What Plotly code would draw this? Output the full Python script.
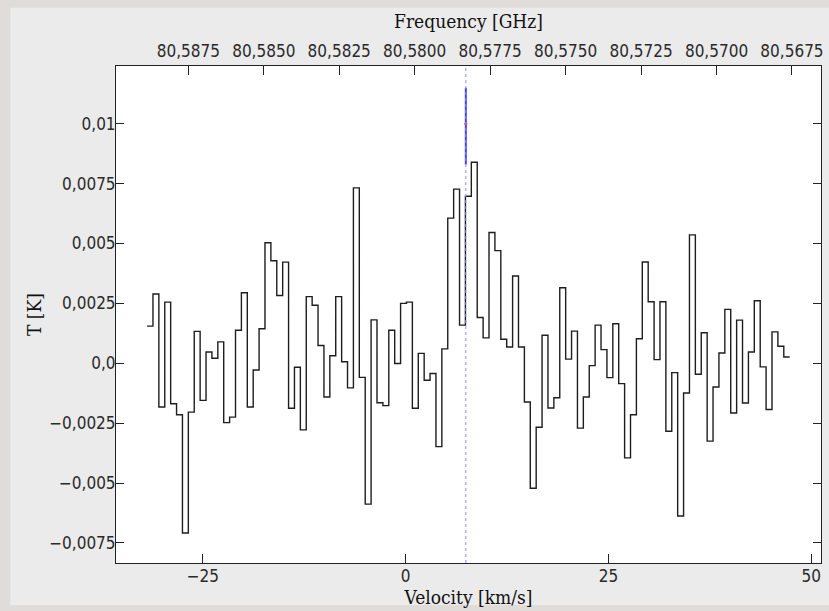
import numpy as np
import plotly.graph_objects as go

# --- spectrum -------------------------------------------------------------
C_KMS = 299792.458
REST_FREQ_GHZ = 80.5803      # frequency at v = 0

V_START = -31.87             # left edge of first channel [km/s]
DV = 0.7267                  # channel width [km/s]

T_K = [
    0.00155, 0.00289, -0.00183, 0.00255, -0.00169, -0.00215, -0.00709, -0.00204,
    0.00133, -0.00155, 0.00047, 0.00021, 0.00089, -0.00248, -0.00225, 0.00138,
    0.00294, -0.00183, -0.00028, 0.00144, 0.00503, 0.00428, 0.00283, 0.00422,
    -0.00188, -0.00017, -0.00278, 0.00278, 0.00242, 0.00074, -0.00141, 0.00031,
    0.00278, 0.00006, -0.00103, 0.00732, -0.00059, -0.00588, 0.00181, -0.00165,
    -0.00177, 0.00138, -0.00001, 0.00250, 0.00255, -0.00188, 0.00041, -0.00071,
    -0.00043, -0.00348, 0.00060, 0.00606, 0.00727, 0.00159, 0.00697, 0.00839,
    0.00191, 0.00106, 0.00546, 0.00470, 0.00100, 0.00068, 0.00364, 0.00068,
    -0.00162, -0.00522, -0.00267, 0.00117, -0.00187, -0.00144, 0.00315, 0.00017,
    0.00134, -0.00271, -0.00141, -0.00010, 0.00159, 0.00057, -0.00060, 0.00165,
    -0.00085, -0.00395, -0.00215, 0.00102, 0.00423, 0.00257, 0.00015, 0.00257,
    -0.00284, -0.00039, -0.00638, -0.00124, 0.00536, -0.00046, 0.00127, -0.00325,
    -0.00099, 0.00043, 0.00225, -0.00208, 0.00180, -0.00166, 0.00047, 0.00261,
    -0.00015, -0.00193, 0.00131, 0.00071, 0.00026,
]

# line marker
LINE_VELOCITY = 7.42
LINE_MARK_LOW = 0.0083
LINE_MARK_HIGH = 0.0115
LINE_MARK_REF = 0.010

# axes
V_RANGE = [-35.7, 51.2]
T_RANGE = [-0.00834, 0.01241]

X_TICKS = [-25, 0, 25, 50]
X_TICK_TEXT = ["−25", "0", "25", "50"]
Y_TICKS = [0.01, 0.0075, 0.005, 0.0025, 0.0, -0.0025, -0.005, -0.0075]
Y_TICK_TEXT = ["0,01", "0,0075", "0,005", "0,0025", "0,0", "−0,0025", "−0,005", "−0,0075"]
F_TICKS = [80.5875, 80.5850, 80.5825, 80.5800, 80.5775, 80.5750, 80.5725, 80.5700, 80.5675]
F_TICK_TEXT = ["80,5875", "80,5850", "80,5825", "80,5800", "80,5775",
               "80,5750", "80,5725", "80,5700", "80,5675"]


def vel_to_freq(v):
    return REST_FREQ_GHZ * (1.0 - np.asarray(v) / C_KMS)


n = len(T_K)
v_edges = V_START + DV * np.arange(n + 1)
t_steps = list(T_K) + [T_K[-1]]

TICK_FONT = dict(family="DejaVu Sans Condensed, DejaVu Sans, sans-serif", size=17, color="#2a2a2a")
TITLE_FONT = dict(family="DejaVu Serif Condensed, DejaVu Serif, serif", size=19, color="#111111")

fig = go.Figure()

fig.add_trace(go.Scatter(
    x=v_edges, y=t_steps, mode="lines", line_shape="hv",
    line=dict(color="#1e1e1e", width=1.4), showlegend=False, hoverinfo="skip",
))

# frequency axis carrier (invisible)
fig.add_trace(go.Scatter(
    x=vel_to_freq(v_edges), y=t_steps, mode="lines", xaxis="x2",
    line=dict(color="rgba(0,0,0,0)", width=0), showlegend=False, hoverinfo="skip",
))

# line marker
fig.add_trace(go.Scatter(
    x=[LINE_VELOCITY, LINE_VELOCITY], y=[LINE_MARK_LOW, LINE_MARK_HIGH], mode="lines",
    line=dict(color="#4040ff", width=2), showlegend=False, hoverinfo="skip",
))
fig.add_trace(go.Scatter(
    x=[LINE_VELOCITY], y=[LINE_MARK_REF], mode="markers",
    marker=dict(color="#ff2020", size=3), showlegend=False, hoverinfo="skip",
))

# panel behind the plot
fig.add_shape(type="rect", xref="paper", yref="paper",
              x0=-0.150, x1=1.02, y0=-0.0845, y1=1.117,
              fillcolor="#ebebeb", line=dict(width=0), layer="below")
fig.add_shape(type="rect", xref="paper", yref="paper", x0=0, x1=1, y0=0, y1=1,
              fillcolor="#ffffff", line=dict(width=0), layer="below")
fig.add_shape(type="line", xref="x", yref="paper", x0=LINE_VELOCITY, x1=LINE_VELOCITY,
              y0=0, y1=1, line=dict(color="#8c8cff", width=1, dash="dot"))

fig.update_layout(
    width=829, height=611,
    margin=dict(l=116, r=6, t=66, b=48),
    paper_bgcolor="#e0dcd9",
    plot_bgcolor="rgba(0,0,0,0)",
    xaxis=dict(
        range=V_RANGE, tickvals=X_TICKS, ticktext=X_TICK_TEXT,
        ticks="inside", ticklen=9, tickcolor="#222", tickwidth=1,
        showline=True, linecolor="#222", linewidth=1, mirror=True,
        showgrid=False, zeroline=False, tickfont=TICK_FONT, ticklabelstandoff=-2,
        title=dict(text="Velocity [km/s]", font=TITLE_FONT, standoff=2),
    ),
    xaxis2=dict(
        overlaying="x", side="top", anchor="y",
        range=list(vel_to_freq(V_RANGE)), tickvals=F_TICKS, ticktext=F_TICK_TEXT,
        ticks="inside", ticklen=9, tickcolor="#222", tickwidth=1,
        showline=False, showgrid=False, zeroline=False, tickfont=TICK_FONT,
        ticklabelstandoff=5,
        title=dict(text="Frequency [GHz]", font=TITLE_FONT, standoff=6),
    ),
    yaxis=dict(
        range=T_RANGE, tickvals=Y_TICKS, ticktext=Y_TICK_TEXT,
        ticks="inside", ticklen=8, tickcolor="#222", tickwidth=1,
        showline=True, linecolor="#222", linewidth=1, mirror="ticks",
        showgrid=False, zeroline=False, tickfont=TICK_FONT, ticklabelstandoff=-4,
        title=dict(text="T [K]", font=TITLE_FONT, standoff=2),
    ),
)

fig.write_html("out.html")
